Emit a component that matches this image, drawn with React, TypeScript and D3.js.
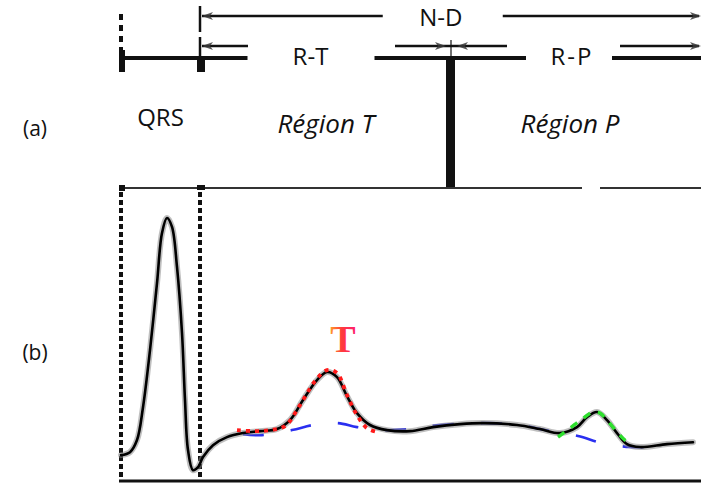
import React from 'react';
import * as d3 from 'd3';

const W = 701;
const H = 483;

// One ECG beat: sample index and amplitude (mV)
const ecgT = [0, 9, 16, 22, 29, 36, 41, 46, 51, 56, 61, 64, 67, 72, 77, 82, 92, 106, 122, 139, 156, 169, 182, 196, 206, 216, 226, 236, 249, 266, 289, 312, 339, 362, 396, 419, 439, 456, 466, 476, 486, 496, 506, 519, 546, 572];
const ecgV = [-0.118, -0.104, -0.047, 0.108, 0.377, 0.693, 0.929, 1.0, 0.958, 0.769, 0.458, 0.142, -0.094, -0.189, -0.175, -0.127, -0.071, -0.033, -0.014, -0.005, 0.005, 0.047, 0.142, 0.236, 0.274, 0.25, 0.16, 0.08, 0.024, 0.0, -0.005, 0.014, 0.028, 0.033, 0.024, 0.005, -0.014, 0.014, 0.061, 0.085, 0.047, -0.014, -0.066, -0.08, -0.066, -0.057];

// Fitted T wave (red dotted)
const tFitT = [116, 134, 149, 164, 179, 194, 206, 216, 226, 236, 246, 256];
const tFitV = [0.0, -0.005, 0.0, 0.019, 0.118, 0.231, 0.283, 0.269, 0.165, 0.071, 0.009, -0.009];

// Fitted P wave (green dotted)
const pFitT = [437, 449, 461, 472, 479, 487, 496, 504, 512];
const pFitV = [-0.033, 0.009, 0.052, 0.085, 0.08, 0.042, -0.009, -0.047, -0.066];

// Estimated baseline (blue dashed)
const baseT = [122, 139, 171, 192, 217, 236, 262, 289, 319, 369, 399, 424, 457, 481, 509, 527];
const baseV = [-0.019, -0.024, 0.0, 0.024, 0.033, 0.014, 0.0, 0.005, 0.024, 0.033, 0.024, 0.0, -0.028, -0.061, -0.08, -0.08];

// Segmentation marks on the time axis: QRS onset, R (QRS end), N-D point, window end
const zoneEdges = [0, 79, 330, 580];
const zoneLabels = ['QRS', 'Région T', 'Région P'];
const intervalLabels = ['N-D', 'R-T', 'R-P'];
const panelLabels = ['(a)', '(b)'];
const waveLabel = 'T';

const zip = (ts: number[], vs: number[]) => ts.map((t, i) => ({ t, v: vs[i] }));

export default function App() {
  const x = d3.scaleLinear().domain([0, 580]).range([121, 701]);
  const y = d3.scaleLinear().domain([-0.24, 1.0]).range([481, 218]);

  const line = d3
    .line<{ t: number; v: number }>()
    .x((d) => x(d.t))
    .y((d) => y(d.v))
    .curve(d3.curveCatmullRom.alpha(0.5));

  const ecgPath = line(zip(ecgT, ecgV)) || '';
  const tPath = line(zip(tFitT, tFitV)) || '';
  const pPath = line(zip(pFitT, pFitV)) || '';
  const basePath = line(zip(baseT, baseV)) || '';

  const [e0, e1, e2, e3] = zoneEdges.map((e) => x(e));

  // rows of the segmentation diagram
  const rowND = 16;
  const rowInt = 46;
  const rowZone = 58;
  const rowBase = 188;
  const axisY = y(-0.24);

  const font = "'Open Sans', 'Noto Sans', sans-serif";
  const ink = '#111';
  const arrowFill = '#3a3a3a';

  const arrow = (tipX: number, yy: number, dir: 1 | -1, key: string) => {
    const len = 11;
    const hw = 4;
    const b = tipX - dir * len;
    return (
      <polygon
        key={key}
        points={`${tipX},${yy} ${b},${yy - hw} ${b + dir * 3},${yy} ${b},${yy + hw}`}
        fill={arrowFill}
        opacity={0.85}
      />
    );
  };

  const ndMid = (e2 + (e1 + e3) / 2) / 2 - 10;
  const rtMid = (e1 + e2) / 2 - 15;
  const rpMid = (e2 + e3) / 2 - 4;

  return (
    <svg
      width={W}
      height={H}
      style={{ position: 'absolute', left: 0, top: 0, background: '#fff' }}
      fontFamily={font}
    >
      <defs>
        <linearGradient id="tGrad" x1="0" x2="1" y1="0" y2="0">
          <stop offset="0%" stopColor="#ff9a2a" />
          <stop offset="45%" stopColor="#ff3b3b" />
          <stop offset="100%" stopColor="#ff1f6e" />
        </linearGradient>
      </defs>

      {/* panel labels */}
      <text x={35} y={136} fontSize={21} textAnchor="middle" fill={ink}>{panelLabels[0]}</text>
      <text x={35} y={360} fontSize={21} textAnchor="middle" fill={ink}>{panelLabels[1]}</text>

      {/* ---- (a) segmentation diagram ---- */}
      {/* QRS onset marker */}
      <line x1={e0} x2={e0} y1={14} y2={50} stroke={ink} strokeWidth={4} strokeDasharray="6 5" />
      <rect x={e0 - 2} y={50} width={6} height={22} fill={ink} />

      {/* R marker */}
      <line x1={e1} x2={e1} y1={6} y2={32} stroke={ink} strokeWidth={2.5} />
      <line x1={e1} x2={e1} y1={37} y2={58} stroke={ink} strokeWidth={2.5} />
      <rect x={e1 - 3} y={56} width={8} height={16} fill={ink} />

      {/* N-D interval row */}
      <line x1={e1 + 2} x2={ndMid - 58} y1={rowND} y2={rowND} stroke={ink} strokeWidth={2.5} />
      <line x1={ndMid + 62} x2={e3 - 2} y1={rowND} y2={rowND} stroke={ink} strokeWidth={2.5} />
      {arrow(e1 + 2, rowND, -1, 'nd-l')}
      {arrow(e3, rowND, 1, 'nd-r')}
      <text x={ndMid} y={26} fontSize={24} textAnchor="middle" fill={ink}>{intervalLabels[0]}</text>

      {/* R-T / R-P interval row */}
      <line x1={e1 + 2} x2={e1 + 48} y1={rowInt} y2={rowInt} stroke={ink} strokeWidth={2.5} />
      {arrow(e1 + 2, rowInt, -1, 'rt-l')}
      <line x1={e2 - 56} x2={e2 + 56} y1={rowInt} y2={rowInt} stroke={ink} strokeWidth={2.5} />
      {arrow(e2 - 5, rowInt, 1, 'nd-in-l')}
      {arrow(e2 + 6, rowInt, -1, 'nd-in-r')}
      <line x1={e2} x2={e2} y1={40} y2={58} stroke={ink} strokeWidth={1.2} />
      <line x1={e3 - 81} x2={e3 - 2} y1={rowInt} y2={rowInt} stroke={ink} strokeWidth={2.5} />
      {arrow(e3, rowInt, 1, 'rp-r')}

      {/* zone baseline with label gaps */}
      <line x1={e0} x2={rtMid - 63} y1={rowZone} y2={rowZone} stroke={ink} strokeWidth={4} />
      <line x1={rtMid + 64} x2={526} y1={rowZone} y2={rowZone} stroke={ink} strokeWidth={4} />
      <line x1={612} x2={e3} y1={rowZone} y2={rowZone} stroke={ink} strokeWidth={4} />
      <text x={rtMid} y={65} fontSize={24} textAnchor="middle" fill={ink}>{intervalLabels[1]}</text>
      <text x={rpMid} y={65} fontSize={24} letterSpacing={2} textAnchor="middle" fill={ink}>{intervalLabels[2]}</text>

      {/* N-D boundary bar */}
      <rect x={e2 - 5} y={rowZone} width={9} height={rowBase - rowZone} fill={ink} />

      {/* zone names */}
      <text x={(e0 + e1) / 2} y={126} fontSize={24} textAnchor="middle" fill={ink}>{zoneLabels[0]}</text>
      <text x={326} y={133} fontSize={26} fontStyle="italic" textAnchor="middle" fill={ink}>{zoneLabels[1]}</text>
      <text x={570} y={133} fontSize={26} fontStyle="italic" textAnchor="middle" fill={ink}>{zoneLabels[2]}</text>

      {/* lower boundary of the diagram */}
      <line x1={e0} x2={582} y1={rowBase} y2={rowBase} stroke="#333" strokeWidth={2} />
      <line x1={600} x2={e3} y1={rowBase} y2={rowBase} stroke="#333" strokeWidth={2} />
      <rect x={e0 - 2} y={rowBase - 3} width={6} height={6} fill={ink} />
      <rect x={e1 - 3} y={rowBase - 3} width={8} height={5} fill={ink} />

      {/* ---- (b) ECG beat ---- */}
      <line x1={e0} x2={e0} y1={rowBase + 4} y2={axisY} stroke={ink} strokeWidth={4} strokeDasharray="5 3" />
      <line x1={e1} x2={e1} y1={rowBase + 4} y2={axisY} stroke={ink} strokeWidth={4} strokeDasharray="5 3" />

      <path d={basePath} fill="none" stroke="#2a2ff0" strokeWidth={2.6} strokeDasharray="21 27" />
      <path d={ecgPath} fill="none" stroke="#8a8a8a" strokeOpacity={0.55} strokeWidth={6} strokeLinejoin="round" strokeLinecap="round" />
      <path d={ecgPath} fill="none" stroke="#000" strokeWidth={2.6} strokeLinejoin="round" strokeLinecap="round" />
      <path d={tPath} fill="none" stroke="#ff1a1a" strokeWidth={3.8} strokeDasharray="4 5" />
      <path d={pPath} fill="none" stroke="#2ee02e" strokeWidth={3.4} strokeDasharray="8 8" />

      <text
        x={343}
        y={352}
        fontSize={38}
        fontWeight="bold"
        fontFamily="'Liberation Serif', 'DejaVu Serif', serif"
        textAnchor="middle"
        fill="url(#tGrad)"
      >
        {waveLabel}
      </text>

      <line x1={e0 - 2} x2={e3} y1={axisY} y2={axisY} stroke={ink} strokeWidth={3} />
    </svg>
  );
}
